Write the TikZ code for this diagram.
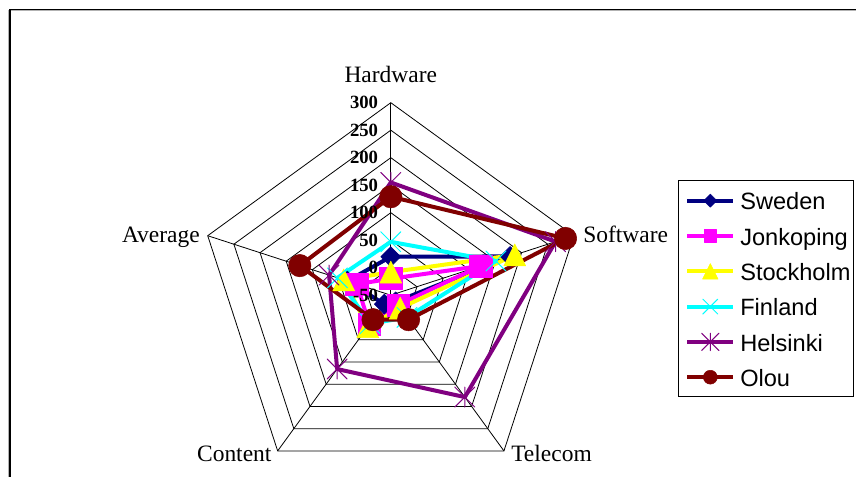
\documentclass[tikz,border=0pt]{standalone}
\usepackage{fontspec}
\setmainfont{Liberation Serif}
\newfontfamily\arial{Liberation Sans}
\usetikzlibrary{plotmarks}
\definecolor{navy}{RGB}{0,0,128}
\definecolor{fuchsia}{RGB}{255,0,255}
\definecolor{lemon}{RGB}{255,255,0}
\definecolor{aqua}{RGB}{0,255,255}
\definecolor{plum}{RGB}{128,0,128}
\definecolor{maroon}{RGB}{128,0,0}

\pgfdeclareplotmark{rdiamond}{%
  \pgfpathmoveto{\pgfqpoint{0pt}{\pgfplotmarksize}}%
  \pgfpathlineto{\pgfqpoint{\pgfplotmarksize}{0pt}}%
  \pgfpathlineto{\pgfqpoint{0pt}{-\pgfplotmarksize}}%
  \pgfpathlineto{\pgfqpoint{-\pgfplotmarksize}{0pt}}%
  \pgfpathclose
  \pgfusepathqfillstroke}
\pgfdeclareplotmark{rtriangle}{%
  \pgfpathmoveto{\pgfqpoint{0pt}{\pgfplotmarksize}}%
  \pgfpathlineto{\pgfqpoint{\pgfplotmarksize}{-\pgfplotmarksize}}%
  \pgfpathlineto{\pgfqpoint{-\pgfplotmarksize}{-\pgfplotmarksize}}%
  \pgfpathclose
  \pgfusepathqfillstroke}
\pgfdeclareplotmark{xcross}{%
  \pgfpathmoveto{\pgfqpoint{-\pgfplotmarksize}{-\pgfplotmarksize}}%
  \pgfpathlineto{\pgfqpoint{\pgfplotmarksize}{\pgfplotmarksize}}%
  \pgfpathmoveto{\pgfqpoint{-\pgfplotmarksize}{\pgfplotmarksize}}%
  \pgfpathlineto{\pgfqpoint{\pgfplotmarksize}{-\pgfplotmarksize}}%
  \pgfusepathqstroke}
\pgfdeclareplotmark{xstar}{%
  \pgfpathmoveto{\pgfqpoint{-\pgfplotmarksize}{-\pgfplotmarksize}}%
  \pgfpathlineto{\pgfqpoint{\pgfplotmarksize}{\pgfplotmarksize}}%
  \pgfpathmoveto{\pgfqpoint{-\pgfplotmarksize}{\pgfplotmarksize}}%
  \pgfpathlineto{\pgfqpoint{\pgfplotmarksize}{-\pgfplotmarksize}}%
  \pgfpathmoveto{\pgfqpoint{0pt}{-\pgfplotmarksize}}%
  \pgfpathlineto{\pgfqpoint{0pt}{\pgfplotmarksize}}%
  \pgfusepathqstroke}

\tikzset{
  gridline/.style={black, line width=0.6pt},
  axislabel/.style={inner sep=0pt, font=\fontsize{17.6}{20}\selectfont},
  ringlabel/.style={inner sep=0pt, anchor=east, font=\bfseries\fontsize{14}{16}\selectfont},
  legendtext/.style={inner sep=0pt, anchor=base west, font=\arial\fontsize{17.7}{20}\selectfont},
  series/.style={line width=3pt, line join=round, line cap=round},
  sweden/.style={series, color=navy, mark=rdiamond, mark size=7.5pt, mark options={line width=.4pt}},
  jonkoping/.style={series, color=fuchsia, mark=square*, mark size=8.3pt, mark options={line width=.4pt}},
  stockholm/.style={series, color=lemon, mark=rtriangle, mark size=8.2pt, mark options={line width=.4pt}},
  finland/.style={series, color=aqua, mark=xcross, mark size=7.5pt, mark options={line width=.75pt}},
  helsinki/.style={series, color=plum, mark=xstar, mark size=7.5pt, mark options={line width=.75pt}},
  olou/.style={series, color=maroon, mark=*, mark size=8.4pt, mark options={line width=.4pt}}
}

\newcommand{\radar}[6]{%
  \foreach \v [count=\i] in {#2,#3,#4,#5,#6}
    \coordinate (#1-\i) at ({162-72*\i}:{(\v+50)*0.55});
  \draw[#1, mark=none] (#1-1) -- (#1-2) -- (#1-3) -- (#1-4) -- (#1-5) -- cycle;
}
\newcommand{\radarmarks}[1]{%
  \draw[#1, only marks] plot coordinates {(#1-1) (#1-2) (#1-3) (#1-4) (#1-5)};
}

\begin{document}
\begin{tikzpicture}[x=0.75pt, y=0.75pt]
 \useasboundingbox (0,0) rectangle (856,477);
 \draw[gray!60, line width=0.8pt] (9,0) -- (9,466.3) -- (856,466.3);
 \draw[line width=0.9pt] (10,0) -- (10,467.5) -- (856,467.5);

 \begin{scope}[shift={(390.8,181.8)}]
  \foreach \k in {1,...,7}
   \draw[gridline] (90:{\k*27.5}) -- (18:{\k*27.5}) -- (-54:{\k*27.5}) -- (-126:{\k*27.5}) -- (162:{\k*27.5}) -- cycle;
  \foreach \a in {90,18,-54,-126,162}
   \draw[gridline] (0,0) -- (\a:192.5);

  \node[axislabel, anchor=base] (hw) at (0,212.5) {Hardware};
  \node[axislabel, anchor=base west] (sw) at (192.2,52.5) {Software};
  \node[axislabel, anchor=base east] (av) at (-190.8,52.5) {Average};
  \node[axislabel, anchor=base west] (tc) at (120.2,-166.5) {Telecom};
  \node[axislabel, anchor=base east] (ct) at (-119.1,-166.5) {Content};

  \radar{sweden}{20}{178}{-35}{-30}{33}
  \radar{jonkoping}{-20}{122}{-28}{16}{15}
  \radar{stockholm}{-8}{187}{-21}{21}{40}
  \radar{finland}{47}{151}{0}{14}{52}
  \radar{helsinki}{155}{265}{179}{116}{68}
  \radar{olou}{129}{284}{5}{5}{124}
  \foreach \s in {sweden,jonkoping,stockholm,finland,helsinki,olou}
   {\radarmarks{\s}}

  \foreach \v [count=\k from 0] in {-50,0,50,100,150,200,250,300}
   \node[ringlabel] (r\k) at (-12.5,{\k*27.5}) {\v};
 \end{scope}

 \draw[gridline, fill=white] (678.3,81) rectangle (853.3,296.3);
 \foreach \s/\t/\m [count=\i from 0] in {sweden/Sweden/4.9pt, jonkoping/Jonkoping/4.7pt, stockholm/Stockholm/5.8pt, finland/Finland/5.6pt, helsinki/Helsinki/6.5pt, olou/Olou/5.2pt} {
  \pgfmathsetmacro\ly{276.3-35.3*\i}
  \draw[\s, line cap=butt] (687.3,\ly) -- (733.3,\ly);
  \draw[\s, mark size=\m] plot coordinates {(710.3,\ly)};
  \node[legendtext] (l\i) at (740,{\ly-9.3}) {\t};
 }
\end{tikzpicture}
\end{document}
